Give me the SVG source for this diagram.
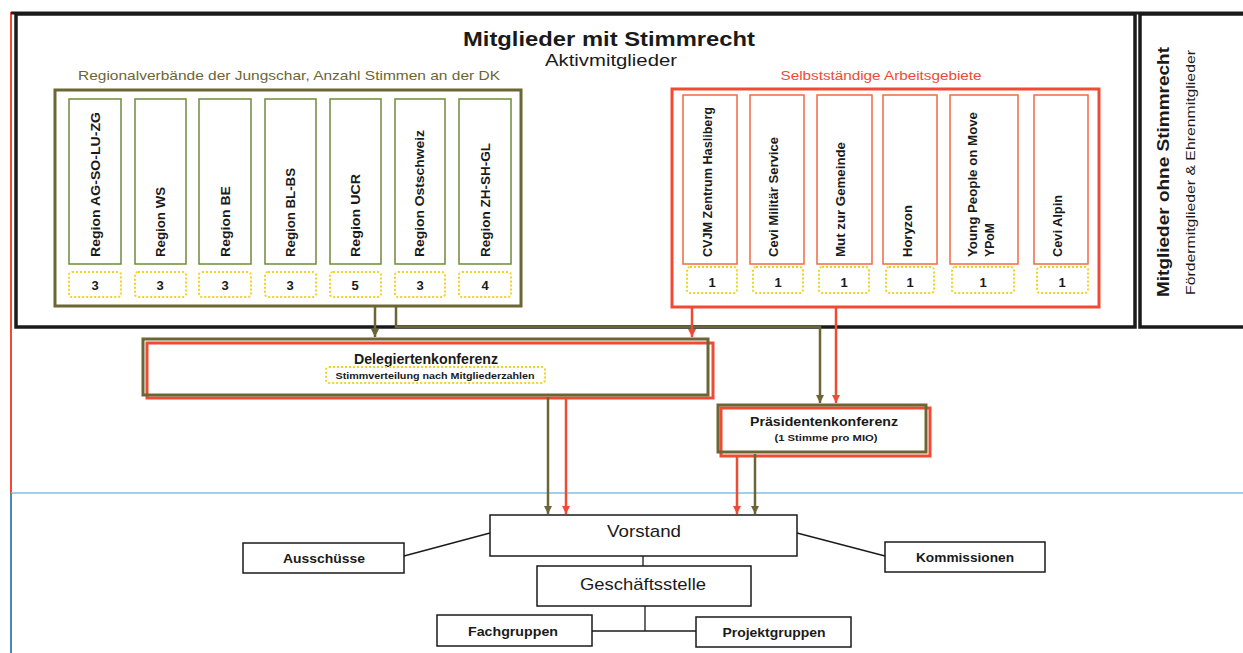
<svg xmlns="http://www.w3.org/2000/svg" width="1243" height="653" viewBox="0 0 1243 653">
<defs>
<style>
text{font-family:"Liberation Sans",Arial,sans-serif;fill:#1a1a1a}
.b{font-weight:bold}
.box{fill:#fff;stroke:#1a1a1a;stroke-width:1.5}
.reg{fill:#fff;stroke:#6f8a3a;stroke-width:1.5}
.sag{fill:#fff;stroke:#f06a45;stroke-width:1.5}
.dot{fill:none;stroke:#f2d41e;stroke-width:2;stroke-dasharray:2 2}
.ol{fill:none;stroke:#6b6634;stroke-width:2.5}
.rd{fill:none;stroke:#f04a35;stroke-width:2.5}
.num{font-size:13px;font-weight:bold;text-anchor:middle}
.vt{font-size:13px;font-weight:bold}
.c{text-anchor:middle}
</style>
<marker id="ao" viewBox="0 0 10 10" refX="10" refY="5" markerWidth="8" markerHeight="8" markerUnits="userSpaceOnUse" orient="auto"><path d="M0,0 L10,5 L0,10 z" fill="#6b6634"/></marker>
<marker id="ar" viewBox="0 0 10 10" refX="10" refY="5" markerWidth="8" markerHeight="8" markerUnits="userSpaceOnUse" orient="auto"><path d="M0,0 L10,5 L0,10 z" fill="#f04a35"/></marker>
</defs>
<rect width="1243" height="653" fill="#fff"/>

<g id="frame">
<line x1="11" y1="12" x2="11" y2="493" stroke="#f04a35" stroke-width="2"/>
<line x1="11" y1="493" x2="1243" y2="493" stroke="#7dbfe8" stroke-width="1.5"/>
<line x1="11" y1="493" x2="11" y2="653" stroke="#4a86b8" stroke-width="2"/>
<line x1="11" y1="13" x2="1243" y2="13" stroke="#2a1a1a" stroke-width="3"/>
</g>

<g id="mit-stimmrecht">
<rect x="16" y="14" width="1119" height="313" fill="none" stroke="#1a1a1a" stroke-width="3.5"/>
<text x="609" y="46" class="b c" font-size="21" textLength="292" lengthAdjust="spacingAndGlyphs">Mitglieder mit Stimmrecht</text>
<text x="611" y="66" class="c" font-size="17" textLength="132" lengthAdjust="spacingAndGlyphs">Aktivmitglieder</text>
</g>

<g id="ohne-stimmrecht">
<rect x="1140" y="14" width="110" height="313" fill="none" stroke="#1a1a1a" stroke-width="3.5"/>
<text transform="translate(1169,297) rotate(-90)" class="b" font-size="17" textLength="250" lengthAdjust="spacingAndGlyphs">Mitglieder ohne Stimmrecht</text>
<text transform="translate(1195,295) rotate(-90)" font-size="13" textLength="245" lengthAdjust="spacingAndGlyphs">Fördermitglieder &amp; Ehrenmitglieder</text>
</g>

<g id="regionalverbaende">
<text x="289" y="80" class="c" font-size="13.5" style="fill:#6b6634" textLength="422" lengthAdjust="spacingAndGlyphs">Regionalverbände der Jungschar, Anzahl Stimmen an der DK</text>
<rect x="55" y="90" width="466" height="216" fill="none" stroke="#6b6634" stroke-width="3"/>
</g>

<g id="region-ag">
<rect class="reg" x="69" y="99" width="52" height="165"/>
<text class="vt" transform="translate(100,257) rotate(-90)" textLength="145" lengthAdjust="spacingAndGlyphs">Region  AG-SO-LU-ZG</text>
<rect class="dot" x="69" y="272" width="52" height="25" rx="3"/>
<text class="num" x="95" y="290">3</text>
</g>
<g id="region-ws">
<rect class="reg" x="135" y="99" width="51" height="165"/>
<text class="vt" transform="translate(165,257) rotate(-90)" textLength="70" lengthAdjust="spacingAndGlyphs">Region WS</text>
<rect class="dot" x="135" y="272" width="51" height="25" rx="3"/>
<text class="num" x="160" y="290">3</text>
</g>
<g id="region-be">
<rect class="reg" x="199" y="99" width="52" height="165"/>
<text class="vt" transform="translate(230,257) rotate(-90)" textLength="71" lengthAdjust="spacingAndGlyphs">Region  BE</text>
<rect class="dot" x="199" y="272" width="52" height="25" rx="3"/>
<text class="num" x="225" y="290">3</text>
</g>
<g id="region-bl">
<rect class="reg" x="265" y="99" width="51" height="165"/>
<text class="vt" transform="translate(295,257) rotate(-90)" textLength="89" lengthAdjust="spacingAndGlyphs">Region BL-BS</text>
<rect class="dot" x="265" y="272" width="51" height="25" rx="3"/>
<text class="num" x="290" y="290">3</text>
</g>
<g id="region-ucr">
<rect class="reg" x="330" y="99" width="51" height="165"/>
<text class="vt" transform="translate(360,257) rotate(-90)" textLength="83" lengthAdjust="spacingAndGlyphs">Region  UCR</text>
<rect class="dot" x="330" y="272" width="51" height="25" rx="3"/>
<text class="num" x="355" y="290">5</text>
</g>
<g id="region-ost">
<rect class="reg" x="395" y="99" width="50" height="165"/>
<text class="vt" transform="translate(424,257) rotate(-90)" textLength="127" lengthAdjust="spacingAndGlyphs">Region  Ostschweiz</text>
<rect class="dot" x="395" y="272" width="50" height="25" rx="3"/>
<text class="num" x="420" y="290">3</text>
</g>
<g id="region-zh">
<rect class="reg" x="459" y="99" width="52" height="165"/>
<text class="vt" transform="translate(490,257) rotate(-90)" textLength="114" lengthAdjust="spacingAndGlyphs">Region  ZH-SH-GL</text>
<rect class="dot" x="459" y="272" width="52" height="25" rx="3"/>
<text class="num" x="485" y="290">4</text>
</g>

<g id="arbeitsgebiete">
<text x="881" y="80" class="c" font-size="13" style="fill:#f04a35" textLength="201" lengthAdjust="spacingAndGlyphs">Selbstständige Arbeitsgebiete</text>
<rect x="672" y="89" width="427" height="218" fill="none" stroke="#f04a35" stroke-width="3"/>
</g>

<g id="sag-cvjm">
<rect class="sag" x="683" y="95" width="54" height="169"/>
<text class="vt" transform="translate(712,257) rotate(-90)" textLength="150" lengthAdjust="spacingAndGlyphs">CVJM Zentrum Hasliberg</text>
<rect class="dot" x="687" y="267" width="50" height="26" rx="3"/>
<text class="num" x="712" y="287" font-size="12">1</text>
</g>
<g id="sag-militaer">
<rect class="sag" x="750" y="95" width="54" height="169"/>
<text class="vt" transform="translate(778,257) rotate(-90)" textLength="120" lengthAdjust="spacingAndGlyphs">Cevi Militär  Service</text>
<rect class="dot" x="753" y="267" width="50" height="26" rx="3"/>
<text class="num" x="778" y="287" font-size="12">1</text>
</g>
<g id="sag-mut">
<rect class="sag" x="817" y="95" width="55" height="169"/>
<text class="vt" transform="translate(845,257) rotate(-90)" textLength="115" lengthAdjust="spacingAndGlyphs">Mut zur Gemeinde</text>
<rect class="dot" x="819" y="267" width="50" height="26" rx="3"/>
<text class="num" x="844" y="287" font-size="12">1</text>
</g>
<g id="sag-horyzon">
<rect class="sag" x="883" y="95" width="54" height="169"/>
<text class="vt" transform="translate(912,257) rotate(-90)" textLength="52" lengthAdjust="spacingAndGlyphs">Horyzon</text>
<rect class="dot" x="886" y="267" width="48" height="26" rx="3"/>
<text class="num" x="910" y="287" font-size="12">1</text>
</g>
<g id="sag-ypom">
<rect class="sag" x="950" y="95" width="68" height="169"/>
<text class="vt" transform="translate(977,257) rotate(-90)" textLength="145" lengthAdjust="spacingAndGlyphs">Young People on Move</text>
<text class="vt" transform="translate(994,257) rotate(-90)" textLength="34" lengthAdjust="spacingAndGlyphs">YPoM</text>
<rect class="dot" x="952" y="267" width="62" height="26" rx="3"/>
<text class="num" x="983" y="287" font-size="12">1</text>
</g>
<g id="sag-alpin">
<rect class="sag" x="1034" y="95" width="54" height="169"/>
<text class="vt" transform="translate(1062,257) rotate(-90)" textLength="62" lengthAdjust="spacingAndGlyphs">Cevi Alpin</text>
<rect class="dot" x="1037" y="267" width="51" height="26" rx="3"/>
<text class="num" x="1062" y="287" font-size="12">1</text>
</g>

<g id="delegiertenkonferenz">
<rect x="147" y="343" width="566" height="55" fill="#fff" stroke="#f04a35" stroke-width="3"/>
<rect x="143" y="339" width="565" height="56" fill="none" stroke="#6b6634" stroke-width="3"/>
<text x="426" y="364" class="b c" font-size="14" textLength="144" lengthAdjust="spacingAndGlyphs">Delegiertenkonferenz</text>
<rect class="dot" x="326" y="367" width="219" height="16" rx="3"/>
<text x="435" y="379" class="b c" font-size="9.5" textLength="199" lengthAdjust="spacingAndGlyphs">Stimmverteilung nach Mitgliederzahlen</text>
</g>

<g id="praesidentenkonferenz">
<rect x="721" y="408" width="209" height="48" fill="#fff" stroke="#f04a35" stroke-width="3"/>
<rect x="718" y="405" width="208" height="47" fill="none" stroke="#6b6634" stroke-width="3"/>
<text x="824" y="426" class="b c" font-size="12.5" textLength="148" lengthAdjust="spacingAndGlyphs">Präsidentenkonferenz</text>
<text x="826" y="441" class="b c" font-size="9.5" textLength="103" lengthAdjust="spacingAndGlyphs">(1 Stimme pro MIO)</text>
</g>

<g id="vorstand">
<rect class="box" x="490" y="515" width="307" height="41"/>
<text x="644" y="537" class="c" font-size="17" textLength="74" lengthAdjust="spacingAndGlyphs">Vorstand</text>
</g>
<g id="ausschuesse">
<rect class="box" x="243" y="543" width="161" height="30"/>
<text x="324" y="563" class="b c" font-size="13" textLength="82" lengthAdjust="spacingAndGlyphs">Ausschüsse</text>
</g>
<g id="kommissionen">
<rect class="box" x="885" y="542" width="160" height="30"/>
<text x="965" y="562" class="b c" font-size="13" textLength="98" lengthAdjust="spacingAndGlyphs">Kommissionen</text>
</g>
<g id="geschaeftsstelle">
<rect class="box" x="537" y="566" width="214" height="40"/>
<text x="643" y="590" class="c" font-size="17" textLength="126" lengthAdjust="spacingAndGlyphs">Geschäftsstelle</text>
</g>
<g id="fachgruppen">
<rect class="box" x="437" y="615" width="155" height="31"/>
<text x="513" y="636" class="b c" font-size="13" textLength="90" lengthAdjust="spacingAndGlyphs">Fachgruppen</text>
</g>
<g id="projektgruppen">
<rect class="box" x="696" y="617" width="155" height="30"/>
<text x="774" y="637" class="b c" font-size="13" textLength="103" lengthAdjust="spacingAndGlyphs">Projektgruppen</text>
</g>

<g id="connectors">
<path class="ol" d="M375,306 V337" marker-end="url(#ao)"/>
<path class="ol" d="M396,306 V327 H820 V403" marker-end="url(#ao)"/>
<path class="rd" d="M692,308 V337" marker-end="url(#ar)"/>
<path class="rd" d="M836,308 V403" marker-end="url(#ar)"/>
<path class="ol" d="M548,397 V514" marker-end="url(#ao)"/>
<path class="rd" d="M566,399 V514" marker-end="url(#ar)"/>
<path class="rd" d="M737,457 V514" marker-end="url(#ar)"/>
<path class="ol" d="M755,454 V514" marker-end="url(#ao)"/>
<g stroke="#1a1a1a" stroke-width="1.3" fill="none">
<line x1="404" y1="556" x2="490" y2="533"/>
<line x1="797" y1="533" x2="885" y2="556"/>
<line x1="643" y1="556" x2="643" y2="566"/>
<line x1="645" y1="606" x2="645" y2="631"/>
<line x1="592" y1="631" x2="696" y2="631"/>
</g>
</g>
</svg>
